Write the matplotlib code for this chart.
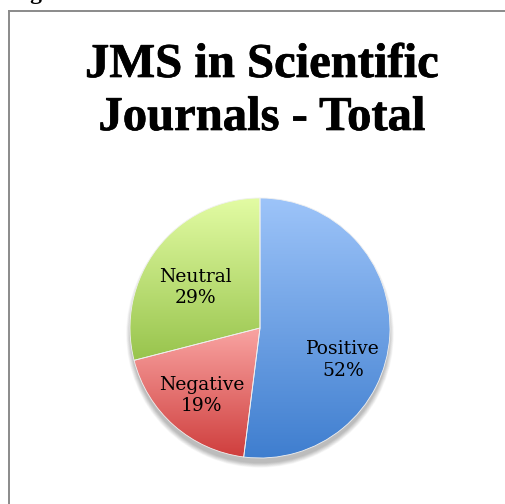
import numpy as np
import matplotlib
matplotlib.use("Agg")
import matplotlib.pyplot as plt
import matplotlib.patheffects as pe
from matplotlib.colors import LinearSegmentedColormap
from matplotlib.lines import Line2D

# data
categories = ["Positive", "Negative", "Neutral"]
shares = [52, 19, 29]

# gradient ends (top, bottom) for each slice
grad_top = ["#9dc4f9", "#f9a4a2", "#e3fca4"]
grad_bottom = ["#3f7ecf", "#cf3e3d", "#98c44d"]

# where the labels sit inside the pie (data units, radius = 1)
label_xy = [(0.64, -0.245), (-0.45, -0.52), (-0.50, 0.31)]

W, H = 505, 504
fig = plt.figure(figsize=(W / 100, H / 100), dpi=100)

# frame around the chart (left and top edges only show)
fig.add_artist(Line2D([9 / W, 9 / W], [0, 1 - 11 / H], color="#8a8a8a", lw=1.4))
fig.add_artist(Line2D([9 / W, 1], [1 - 11 / H, 1 - 11 / H], color="#8a8a8a", lw=1.4))

# caption that runs off the top edge
fig.text(9 / W, 1 + 1 / H, "Figure 7a", fontsize=17, fontweight="bold",
         family="Liberation Serif", ha="left", va="baseline")

heavy = [pe.withStroke(linewidth=0.5, foreground="black")]
fig.text(262 / W, 1 - 77 / H, "JMS in Scientific", fontsize=35, fontweight="bold",
         family="Liberation Serif", ha="center", va="baseline", path_effects=heavy)
fig.text(262 / W, 1 - 130 / H, "Journals - Total", fontsize=35, fontweight="bold",
         family="Liberation Serif", ha="center", va="baseline", path_effects=heavy)

# pie axes: centre (260, 328) px, radius 130 px
cx, cy, r = 260, 328, 130
half = 170
ax = fig.add_axes([(cx - half) / W, (H - cy - half) / H, 2 * half / W, 2 * half / H])
lim = half / r

# soft drop shadow, mostly below the pie
for k in range(14):
    rad = 0.99 + 0.04 * (1 - k / 14)
    circ = plt.Circle((0, -0.045), rad, color="black", alpha=0.018, lw=0)
    ax.add_patch(circ)

wedges, _ = ax.pie(shares, startangle=90, counterclock=False, radius=1,
                   wedgeprops=dict(edgecolor="#f0f0f0", linewidth=0.6))

for w, top, bot in zip(wedges, grad_top, grad_bottom):
    w.set_facecolor("none")
    path = w.get_path().transformed(w.get_patch_transform())
    ext = path.get_extents()
    cmap = LinearSegmentedColormap.from_list("g", [bot, top])
    grad = np.linspace(0, 1, 256).reshape(-1, 1)
    im = ax.imshow(grad, cmap=cmap, origin="lower", aspect="auto",
                   extent=[ext.x0, ext.x1, ext.y0, ext.y1], zorder=1.5,
                   interpolation="bicubic")
    im.set_clip_path(w)
    w.set_zorder(2)

for name, val, (lx, ly) in zip(categories, shares, label_xy):
    ax.text(lx, ly, f"{name}\n{val}%", ha="center", va="center", fontsize=13.5,
            family="DejaVu Serif", linespacing=1.25, zorder=3)

ax.set_xlim(-lim, lim)
ax.set_ylim(-lim, lim)
ax.set_aspect("equal")
ax.axis("off")

fig.savefig("out.png", dpi=100)
